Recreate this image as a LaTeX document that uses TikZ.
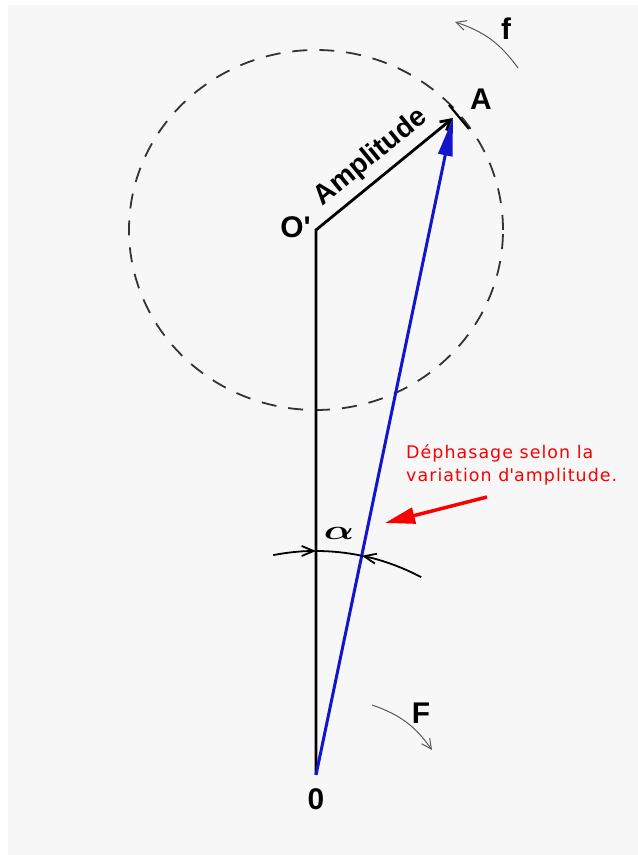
\documentclass[tikz,border=0pt]{standalone}
\usepackage{fontspec}
\usepackage{graphicx}
\setmainfont{Liberation Sans}
\newfontfamily\notefont[LetterSpace=6]{DejaVu Sans}
\usetikzlibrary{arrows.meta}
\definecolor{phasorblue}{RGB}{20,20,205}
\definecolor{notered}{RGB}{250,0,0}
\definecolor{paper}{RGB}{247,247,247}

\begin{document}
\begin{tikzpicture}[x=1bp,y=1bp, lbl/.style={font=\fontsize{30}{32}\selectfont\bfseries, inner sep=0pt},
    turn/.style={draw=black!65, line width=1bp, -{Straight Barb[length=10bp,width=10bp]}},
    dim/.style={line width=1.8bp}, dimtip/.style={dim, -{Straight Barb[length=12bp,width=10bp]}}]
  \useasboundingbox (0,0) rectangle (638,855);
  \fill[paper] (8,0) rectangle (638,850);
  % points of the diagram
  \coordinate (o) at (316,80);
  \coordinate (op) at (316,625);
  \coordinate (a) at (453,737);
  % circle described by A
  \draw[black!80, line width=1.8bp, dash pattern=on 15bp off 12bp] (op) ellipse [x radius=187, y radius=180];
  % O -> O' -> A
  \draw[line width=2.8bp, -{Straight Barb[length=10bp,width=11bp]}] (o) -- (op) -- node[sloped, above=7bp, pos=0.5, inner sep=0pt, font=\fontsize{28}{30}\selectfont\bfseries] (amp) {Amplitude} (a);
  \draw[line width=2.2bp] (a) ++(-4,13) -- ++(20,-24);
  % resulting vector
  \draw[phasorblue, line width=3bp, -{Triangle[length=38bp,width=14bp]}] (o) -- (a);
  % angle alpha
  \draw[dimtip] (o) ++(101:224) arc[start angle=101, end angle=90, radius=224];
  \draw[dim] (o) ++(90:224) arc[start angle=90, end angle=78.2, radius=224];
  \draw[dimtip] (o) ++(62:224) arc[start angle=62, end angle=78.2, radius=224];
  \node[inner sep=0pt] (alpha) at (339,322) {\scalebox{1.6}[1.1]{\fontsize{28}{28}\selectfont\boldmath$\alpha$}};
  % labels
  \node[lbl, below=13bp] (lo) at (o) {0};
  \node[lbl, anchor=east] (lop) at (311,628) {O\textquotesingle};
  \node[lbl] (la) at (481,756) {A};
  \node[lbl] (lf) at (506,826) {f};
  \node[lbl] (lF) at (421,142) {F};
  % rotation marks
  \coordinate (fs) at (518,787);
  \coordinate (fe) at (455,833);
  \draw[turn] (fs) to[bend right=18] (fe);
  \coordinate (Fs) at (372,150);
  \coordinate (Fe) at (432,105);
  \draw[turn] (Fs) to[bend left=18] (Fe);
  % note
  \node[notered, anchor=north west, inner sep=0pt, align=left, font=\notefont\fontsize{17.5}{23}\selectfont] (note) at (406,411) {Déphasage selon la\\variation d\textquotesingle amplitude.};
  \coordinate (notetail) at (487,358);
  \coordinate (notetip) at (385,332);
  \draw[notered, line width=3.5bp, -{Triangle[length=30bp,width=16bp]}] (notetail) -- (notetip);
\end{tikzpicture}
\end{document}
